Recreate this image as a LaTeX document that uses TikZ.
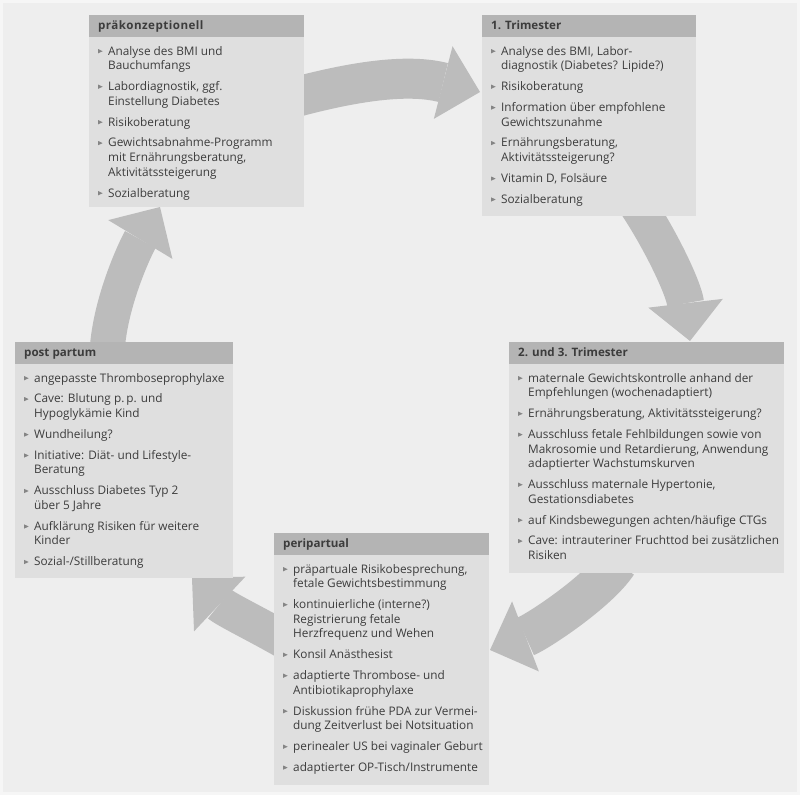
\documentclass[tikz,border=0pt]{standalone}
\usepackage{fontspec}
\setmainfont{Open Sans}
\usetikzlibrary{arrows.meta,calc,backgrounds}
\definecolor{bgc}{HTML}{EEEEEE}
\definecolor{edgec}{HTML}{F6F6F6}
\definecolor{boxc}{HTML}{DFDFDF}
\definecolor{headc}{HTML}{B4B4B4}
\definecolor{arrc}{HTML}{BCBCBC}
\definecolor{txtc}{HTML}{3C3C3C}
\definecolor{bulc}{HTML}{858585}
\pgfdeclarelayer{back}
\pgfsetlayers{back,background,main}
\newcommand\bul{\tikz[baseline=0pt]\fill[bulc] (0pt,1.7pt)--(4.5pt,3.8pt)--(0pt,5.9pt)--cycle;}
\newcommand\itm[1]{\par\noindent\hangindent=10pt\hangafter=1\makebox[10pt][l]{\bul}#1}
\newcommand\nl{\newline}
\newcommand\lst[1]{\parbox[t]{320pt}{\raggedright\fontsize{11.8}{14.6}\selectfont\setlength\parskip{6.3pt}#1}}
\begin{document}
\begin{tikzpicture}[x=1pt,y=-1pt,
  boxbody/.style={fill=boxc,anchor=north west,inner sep=0pt,outer sep=0pt},
  boxhead/.style={fill=headc,anchor=north west,inner sep=0pt,outer sep=0pt,minimum height=22pt},
  headtxt/.style={anchor=base west,inner sep=0pt,text=txtc,font=\fontsize{11.6}{14}\selectfont\bfseries},
  listtxt/.style={anchor=base west,inner sep=0pt,text=txtc},
  flow/.style={draw=arrc,line cap=butt,-{Triangle[width=75pt,length=38pt,line width=0pt]}}]
\useasboundingbox (0,0) rectangle (800,795);
\begin{pgfonlayer}{back}
\fill[edgec] (0,0) rectangle (800,795);
\fill[bgc] (3,3) rectangle (797,792);
\end{pgfonlayer}

% boxes
\node[boxbody,minimum width=215pt,minimum height=192pt] (pre) at (89,15) {};
\node[boxhead,minimum width=215pt] (preh) at (pre.north west) {};
\node[headtxt] (preht) at ($(pre.north west)+(9,14)$) {\addfontfeatures{LetterSpace=4}präkonzeptionell};
\node[listtxt] (prel) at ($(pre.north west)+(9,40)$) {\lst{%
\itm{Analyse des BMI und\nl Bauchumfangs}
\itm{Labordiagnostik, ggf.\nl Einstellung Diabetes}
\itm{Risikoberatung}
\itm{Gewichtsabnahme-Programm\nl mit Ernährungsberatung,\nl Aktivitätssteigerung}
\itm{Sozialberatung}}};

\node[boxbody,minimum width=214pt,minimum height=201pt] (tri1) at (482,15) {};
\node[boxhead,minimum width=214pt] (tri1h) at (tri1.north west) {};
\node[headtxt] (tri1ht) at ($(tri1.north west)+(9,14)$) {1. Trimester};
\node[listtxt] (tri1l) at ($(tri1.north west)+(9,40)$) {\lst{%
\itm{Analyse des BMI, Labor-\nl diagnostik (Diabetes? Lipide?)}
\itm{Risikoberatung}
\itm{Information über empfohlene\nl Gewichtszunahme}
\itm{Ernährungsberatung,\nl Aktivitätssteigerung?}
\itm{Vitamin D, Folsäure}
\itm{Sozialberatung}}};

\node[boxbody,minimum width=275pt,minimum height=231pt] (tri23) at (509,342) {};
\node[boxhead,minimum width=275pt] (tri23h) at (tri23.north west) {};
\node[headtxt] (tri23ht) at ($(tri23.north west)+(9,14)$) {2. und 3. Trimester};
\node[listtxt] (tri23l) at ($(tri23.north west)+(9,40)$) {\lst{%
\itm{maternale Gewichtskontrolle anhand der\nl Empfehlungen (wochenadaptiert)}
\itm{Ernährungsberatung, Aktivitätssteigerung?}
\itm{Ausschluss fetale Fehlbildungen sowie von\nl Makrosomie und Retardierung, Anwendung\nl adaptierter Wachstumskurven}
\itm{Ausschluss maternale Hypertonie,\nl Gestationsdiabetes}
\itm{auf Kindsbewegungen achten/häufige CTGs}
\itm{Cave: intrauteriner Fruchttod bei zusätzlichen\nl Risiken}}};

\node[boxbody,minimum width=218pt,minimum height=236pt] (post) at (15,342) {};
\node[boxhead,minimum width=218pt] (posth) at (post.north west) {};
\node[headtxt] (postht) at ($(post.north west)+(9,14)$) {post partum};
\node[listtxt] (postl) at ($(post.north west)+(9,40)$) {\lst{%
\itm{angepasste Thromboseprophylaxe}
\itm{Cave: Blutung p.\,p. und\nl Hypoglykämie Kind}
\itm{Wundheilung?}
\itm{Initiative: Diät- und Lifestyle-\nl Beratung}
\itm{Ausschluss Diabetes Typ 2\nl über 5 Jahre}
\itm{Aufklärung Risiken für weitere\nl Kinder}
\itm{Sozial-/Stillberatung}}};

\node[boxbody,minimum width=215pt,minimum height=252pt] (peri) at (274,533) {};
\node[boxhead,minimum width=215pt] (perih) at (peri.north west) {};
\node[headtxt] (periht) at ($(peri.north west)+(9,14)$) {peripartual};
\node[listtxt] (peril) at ($(peri.north west)+(9,40)$) {\lst{%
\itm{präpartuale Risikobesprechung,\nl fetale Gewichtsbestimmung}
\itm{kontinuierliche (interne?)\nl Registrierung fetale\nl Herzfrequenz und Wehen}
\itm{Konsil Anästhesist}
\itm{adaptierte Thrombose- und\nl Antibiotikaprophylaxe}
\itm{Diskussion frühe PDA zur Vermei-\nl dung Zeitverlust bei Notsituation}
\itm{perinealer US bei vaginaler Geburt}
\itm{adaptierter OP-Tisch/Instrumente}}};

% cycle arrows
\begin{pgfonlayer}{background}
\draw[flow,line width=40pt] ($(pre.north east)+(-8,82)$) .. controls (360,80) and (410,74) .. ($(tri1.north west)+(-2,77)$);
\draw[flow,line width=37pt] ($(tri1.south west)+(156,-10)$) .. controls (664,246) and (684,290) .. ($(tri23.north west)+(181,-1)$);
\draw[flow,line width=41pt] ($(tri23.south west)+(108,-10)$) .. controls (598,592) and (537,632) .. ($(peri.north east)+(1,117)$);
\draw[flow,line width=37pt] ($(peri.north west)+(10,107)$) .. controls (258,625) and (225,609) .. ($(post.south west)+(177,0)$);
\draw[flow,line width=35pt] ($(post.north west)+(92,10)$) .. controls (110,300) and (137,245) .. ($(pre.south west)+(71,0)$);
\end{pgfonlayer}
\end{tikzpicture}
\end{document}
